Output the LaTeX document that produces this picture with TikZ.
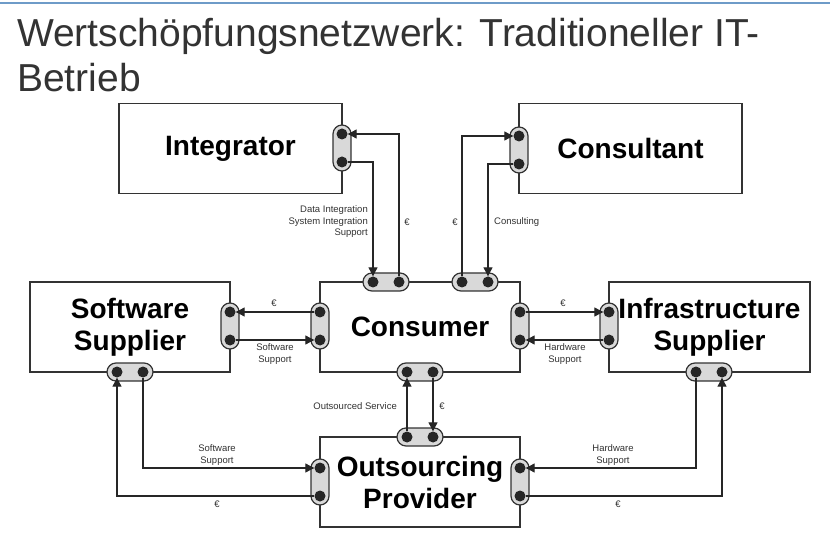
\documentclass[tikz,border=0pt]{standalone}
\usepackage{fontspec}
\setmainfont{Liberation Sans}
\usetikzlibrary{arrows.meta}
\definecolor{ink}{HTML}{333333}
\definecolor{portgray}{HTML}{D9D9D9}
\definecolor{topline}{HTML}{6E9BC8}

\begin{document}
\begin{tikzpicture}[x=1pt, y=-1pt,
    box/.style={draw=ink, line width=1.4pt, fill=white, minimum height=90pt,
                align=center, font=\fontsize{28}{32}\selectfont\bfseries},
    vport/.style={draw=ink, line width=1.2pt, fill=portgray, rounded corners=9pt,
                  minimum width=18pt, minimum height=46pt, inner sep=0pt},
    hport/.style={vport, minimum width=46pt, minimum height=18pt},
    dot/.style={circle, fill=black!85, minimum size=11pt, inner sep=0pt},
    flow/.style={draw=black!85, line width=1.1pt, -{Triangle[length=9pt,width=9pt]}},
    lbl/.style={text=ink, font=\fontsize{9.5}{11.5}\selectfont, inner sep=0pt}]

    \useasboundingbox (0,0) rectangle (830,537);
    \fill[white] (0,0) rectangle (830,537);
    \draw[topline, line width=1.5pt] (0,3) -- (830,3);

    % title
    \node[anchor=base west, text=ink, inner sep=0pt, font=\fontsize{39}{45}\selectfont]
        (title1) at (17,47) {Wertschöpfungsnetzwerk: Traditioneller IT-};
    \node[anchor=base west, text=ink, inner sep=0pt, font=\fontsize{39}{45}\selectfont]
        (title2) at (17,92) {Betrieb};

    % actors
    \node[box, minimum width=223pt] (integrator) at (230.5,148.5) {Integrator};
    \node[box, minimum width=223pt] (consultant) at (630.5,148.5) {Consultant};
    \node[box, minimum width=200pt] (consumer) at (420,327) {Consumer};
    \node[box, minimum width=200pt] (software) at (130,327) {Software\\Supplier};
    \node[box, minimum width=201pt] (infra) at (709.5,327) {Infrastructure\\Supplier};
    \node[box, minimum width=200pt] (outsourcing) at (420,482) {Outsourcing\\Provider};

    % ports
    \foreach \p/\x/\y in {int/342/148, con/519/150, cl/320/326, cr/520/326,
                          sr/230/326, il/609/326, ol/320/482, or/520/482} {
        \node[vport] (\p) at (\x,\y) {};
        \node[dot] (\p1) at ([yshift=14pt]\p.center) {};
        \node[dot] (\p2) at ([yshift=-14pt]\p.center) {};
    }
    \foreach \p/\x/\y in {ct/386/282, cu/475/282, cb/420/372,
                          sb/130/372, ib/709/372, ot/420/437} {
        \node[hport] (\p) at (\x,\y) {};
        \node[dot] (\p1) at ([xshift=-13pt]\p.center) {};
        \node[dot] (\p2) at ([xshift=13pt]\p.center) {};
    }

    % flows
    \draw[flow] (int2) -| (ct1);
    \draw[flow] (ct2) |- (int1);
    \draw[flow] (cu1) |- (con1);
    \draw[flow] (con2) -| (cu2);
    \draw[flow] (cl1) -- (sr1);
    \draw[flow] (sr2) -- (cl2);
    \draw[flow] (cr1) -- (il1);
    \draw[flow] (il2) -- (cr2);
    \draw[flow] (ot1) -- (cb1);
    \draw[flow] (cb2) -- (ot2);
    \draw[flow] (sb2) |- (ol1);
    \draw[flow] (ol2) -| (sb1);
    \draw[flow] (ib1) |- (or1);
    \draw[flow] (or2) -| (ib2);

    % labels
    \node[lbl, anchor=east, align=right] (intLbl) at (368,222)
        {Data Integration\\System Integration\\Support};
    \node[lbl] (intPay) at (407,222) {€};
    \node[lbl] (conPay) at (455,222) {€};
    \node[lbl, anchor=west] (conLbl) at (494,222) {Consulting};
    \node[lbl] (swPay) at (274,303) {€};
    \node[lbl, align=center] (swLbl) at (275,354) {Software\\Support};
    \node[lbl] (hwPay) at (563,303) {€};
    \node[lbl, align=center] (hwLbl) at (565,354) {Hardware\\Support};
    \node[lbl, anchor=east] (osLbl) at (397,406) {Outsourced Service};
    \node[lbl] (osPay) at (442,406) {€};
    \node[lbl, align=center] (swoLbl) at (217,455) {Software\\Support};
    \node[lbl] (swoPay) at (217,504) {€};
    \node[lbl, align=center] (hwoLbl) at (613,455) {Hardware\\Support};
    \node[lbl] (hwoPay) at (618,504) {€};
\end{tikzpicture}
\end{document}
